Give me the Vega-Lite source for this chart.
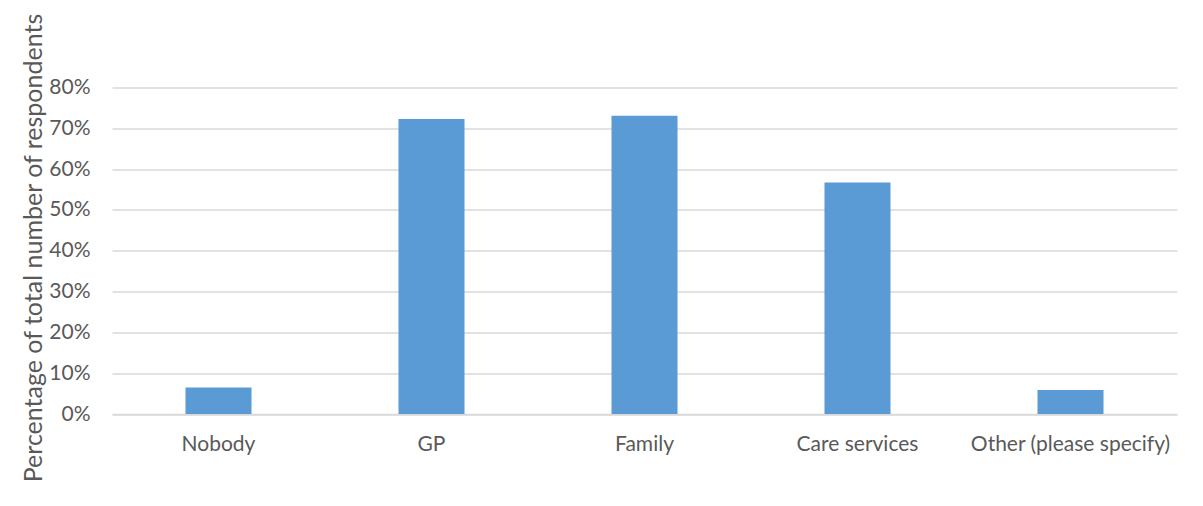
{
  "$schema": "https://vega.github.io/schema/vega-lite/v6.json",
  "width": 1065,
  "height": 326.5,
  "autosize": {"type": "none"},
  "padding": {"left": 112, "top": 87.5, "right": 26, "bottom": 92},
  "background": "white",
  "config": {"view": {"stroke": null}, "font": "Lato"},
  "data": {
    "values": [
      {"category": "Nobody", "pct": 0.065},
      {"category": "GP", "pct": 0.723},
      {"category": "Family", "pct": 0.731},
      {"category": "Care services", "pct": 0.567},
      {"category": "Other (please specify)", "pct": 0.059}
    ]
  },
  "mark": {"type": "bar", "color": "#5B9BD5"},
  "encoding": {
    "x": {
      "field": "category",
      "type": "nominal",
      "sort": null,
      "scale": {"paddingInner": 0.69, "paddingOuter": 0.345},
      "axis": {
        "title": null,
        "labelAngle": 0,
        "labelFontSize": 21,
        "labelLimit": 0,
        "labelColor": "#595959",
        "labelPadding": 19,
        "ticks": false,
        "domain": true,
        "domainColor": "#D9D9D9",
        "domainWidth": 1.5
      }
    },
    "y": {
      "field": "pct",
      "type": "quantitative",
      "scale": {"domain": [0, 0.8], "nice": false},
      "axis": {
        "format": ".0%",
        "values": [0, 0.1, 0.2, 0.3, 0.4, 0.5, 0.6, 0.7, 0.8],
        "title": "Percentage of total number of respondents",
        "titleFontSize": 25,
        "titleFontWeight": "normal",
        "titleColor": "#595959",
        "titleX": -79,
        "titleY": 160,
        "titleAngle": -90,
        "titleAlign": "center",
        "titleBaseline": "middle",
        "labelFontSize": 21,
        "labelColor": "#595959",
        "labelPadding": 22,
        "ticks": false,
        "domain": false,
        "grid": true,
        "gridColor": "#D9D9D9",
        "gridWidth": 1.5
      }
    }
  }
}
